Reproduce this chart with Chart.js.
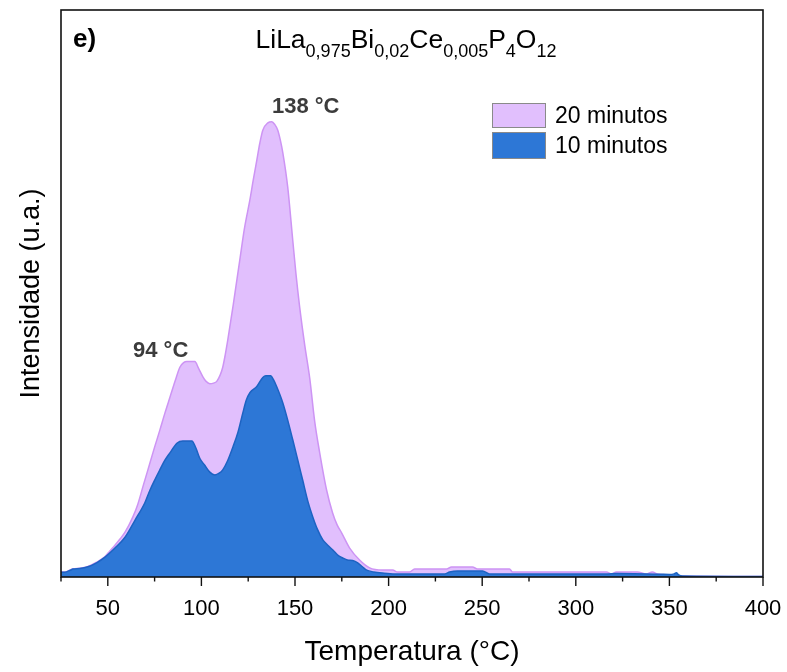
<!DOCTYPE html>
<html lang="pt">
<head>
  <meta charset="UTF-8">
  <title>Termoluminescência</title>
  <script src="https://cdn.jsdelivr.net/npm/chart.js"></script>
  <style>
    html, body { margin: 0; padding: 0; background: #fff; }
    #wrap { width: 787px; height: 672px; }
  </style>
</head>
<body>
  <div id="wrap"><canvas id="tlChart" width="787" height="672"></canvas></div>

  <script>
    // Dados (temperatura em °C, intensidade em u.a. 0-100)
    const temp10 = [25, 27, 30, 31.4, 35, 39.4, 44, 48.5, 53.8, 59.2, 64.5, 69.8, 72.5, 75.2, 77.8, 80.5, 83.2, 86.9, 90.1, 94.9, 97, 99.2, 101.8, 104.5, 107.2, 109.5, 111.4, 114, 116.8, 119.5, 122.1, 124, 125.9, 129.6, 132.8, 134.5, 137, 138.5, 140.3, 143.5, 146, 148.8, 151.5, 154.1, 157, 159.5, 162, 164.8, 167.5, 170.1, 173, 175.5, 178, 180.8, 183.5, 186, 188.3, 192, 196.8, 203.2, 230, 232.6, 236.8, 250.2, 253.9, 316.4, 321.7, 345, 350, 352.5, 353.7, 355, 357, 400];
    const int10 = [0.85, 0.85, 1.2, 1.4, 1.5, 1.8, 2.5, 3.5, 5.1, 7.0, 10.0, 13.1, 15.3, 17.2, 18.9, 20.6, 21.9, 23.6, 24.0, 24.0, 22.8, 20.9, 19.7, 18.5, 18.0, 18.3, 18.9, 20.5, 22.9, 25.5, 28.9, 31.2, 32.5, 33.6, 35.2, 35.5, 35.5, 34.8, 33.5, 30.7, 27.8, 24.2, 20.6, 17.1, 13.2, 10.6, 8.4, 6.6, 5.6, 4.8, 3.8, 3.35, 3.0, 2.9, 2.5, 1.8, 1.2, 0.9, 0.7, 0.55, 0.55, 0.88, 1.06, 1.06, 0.53, 0.53, 0.62, 0.5, 0.45, 0.55, 0.75, 0.35, 0.18, 0.1];

    const temp20 = [25, 27, 30, 31.4, 35, 39.4, 44, 48.5, 51.1, 53.8, 56.5, 59.2, 63.4, 66, 69, 72.5, 75, 77.8, 80.5, 83.2, 86, 88.5, 90.5, 92.2, 96.5, 98.5, 100.8, 102.5, 104.5, 106.5, 108.2, 110, 111.4, 112.8, 114.1, 117, 120.5, 123, 125.9, 127.8, 129.6, 131.2, 132.8, 135.5, 137.6, 139.2, 140.8, 142.2, 143.5, 146.1, 148.8, 150.5, 152.5, 155.2, 157.9, 160.5, 163.2, 166.9, 170.1, 172.5, 174.9, 179.2, 184.5, 189.9, 196.8, 202.2, 204.8, 211.2, 213.9, 231, 233.6, 244.8, 247.5, 264.6, 266.2, 316.4, 319, 321.7, 332.9, 337.7, 340.9, 343.6, 350, 355.3, 400];
    const int20 = [0.9, 0.9, 1.25, 1.45, 1.55, 1.85, 2.6, 3.6, 4.6, 5.6, 6.7, 7.9, 10.6, 12.8, 16.2, 20.1, 22.9, 25.9, 28.9, 31.7, 34.6, 37.0, 37.8, 38.0, 38.0, 36.8, 35.3, 34.5, 34.1, 34.2, 34.5, 35.6, 37.0, 39.3, 41.8, 48.0, 55.9, 61.5, 66.5, 70.2, 73.5, 76.5, 78.8, 80.1, 80.3, 79.8, 78.8, 77.0, 74.8, 68.8, 59.4, 53.5, 47.6, 40.9, 35.0, 27.5, 21.9, 15.3, 11.3, 9.2, 7.8, 5.1, 3.0, 1.6, 1.23, 1.23, 0.88, 0.88, 1.41, 1.41, 1.76, 1.76, 1.41, 1.41, 0.88, 0.88, 0.53, 0.88, 0.88, 0.53, 0.88, 0.53, 0.35, 0.18, 0.1];

    const tickMajor = [50, 100, 150, 200, 250, 300, 350, 400];
    const serieNomes = ['20 minutos', '10 minutos'];
    const picos = [{ texto: '138 °C', x: 272, y: 113 }, { texto: '94 °C', x: 133, y: 357 }];

    const FONTE = '"Liberation Sans", Arial, Helvetica, sans-serif';
    const cor20 = '#e1bffd', borda20 = '#cd94f4';
    const cor10 = '#2d77d6', borda10 = '#1d63c2';

    const pares = (xs, ys) => xs.map((x, i) => ({ x: x, y: ys[i] }));

    // Moldura, marcas do eixo x, legenda e textos
    const decorPlugin = {
      id: 'decor',
      afterDatasetsDraw(chart) {
        const ctx = chart.ctx;
        const a = chart.chartArea;
        const sx = chart.scales.x;
        ctx.save();
        ctx.strokeStyle = '#111';
        ctx.lineWidth = 1.6;
        ctx.strokeRect(a.left, a.top, a.right - a.left, a.bottom - a.top);
        ctx.lineWidth = 1.4;
        for (let v = 25; v <= 400; v += 25) {
          const px = sx.getPixelForValue(v);
          const len = tickMajor.includes(v) ? 9 : 4.5;
          ctx.beginPath();
          ctx.moveTo(px, a.bottom);
          ctx.lineTo(px, a.bottom + len);
          ctx.stroke();
        }
        ctx.restore();
      },
      afterDraw(chart) {
        const ctx = chart.ctx;
        ctx.save();

        // e)
        ctx.fillStyle = '#000';
        ctx.font = 'bold 26px ' + FONTE;
        ctx.textBaseline = 'alphabetic';
        ctx.fillText('e)', 73, 47);

        // título com subscritos
        const partes = [['LiLa', 0], ['0,975', 1], ['Bi', 0], ['0,02', 1], ['Ce', 0], ['0,005', 1], ['P', 0], ['4', 1], ['O', 0], ['12', 1]];
        const big = '26.5px ' + FONTE, small = '18px ' + FONTE;
        let w = 0;
        partes.forEach(p => { ctx.font = p[1] ? small : big; w += ctx.measureText(p[0]).width; });
        let x = 406 - w / 2;
        partes.forEach(p => {
          ctx.font = p[1] ? small : big;
          ctx.fillText(p[0], x, p[1] ? 57 : 48);
          x += ctx.measureText(p[0]).width;
        });

        // rótulos dos picos
        ctx.fillStyle = '#3c3c3c';
        ctx.font = 'bold 22px ' + FONTE;
        picos.forEach(p => ctx.fillText(p.texto, p.x, p.y));

        // legenda
        const caixas = [[cor20, 103, 25], [cor10, 132, 27]];
        ctx.font = '23px ' + FONTE;
        ctx.textBaseline = 'middle';
        caixas.forEach((c, i) => {
          ctx.fillStyle = c[0];
          ctx.fillRect(492, c[1], 54, c[2]);
          ctx.strokeStyle = '#8a8a8a';
          ctx.lineWidth = 1;
          ctx.strokeRect(492.5, c[1] + 0.5, 53, c[2] - 1);
          ctx.fillStyle = '#000';
          ctx.fillText(serieNomes[i], 555, c[1] + c[2] / 2 + 1);
        });
        ctx.restore();
      }
    };

    const ctx = document.getElementById('tlChart').getContext('2d');
    new Chart(ctx, {
      type: 'line',
      data: {
        datasets: [
          {
            label: serieNomes[1],
            data: pares(temp10, int10),
            borderColor: borda10,
            backgroundColor: cor10,
            borderWidth: 1.5,
            fill: 'origin',
            pointRadius: 0,
            cubicInterpolationMode: 'monotone',
            order: 0
          },
          {
            label: serieNomes[0],
            data: pares(temp20, int20),
            borderColor: borda20,
            backgroundColor: cor20,
            borderWidth: 1.5,
            fill: 'origin',
            pointRadius: 0,
            cubicInterpolationMode: 'monotone',
            order: 1
          }
        ]
      },
      options: {
        responsive: false,
        animation: false,
        layout: { padding: { top: 10, right: 24, bottom: 0, left: 0 } },
        plugins: {
          legend: { display: false },
          tooltip: { enabled: false }
        },
        scales: {
          x: {
            type: 'linear',
            min: 25,
            max: 400,
            grid: { display: false },
            border: { display: false },
            ticks: {
              stepSize: 25,
              autoSkip: false,
              maxRotation: 0,
              padding: 11,
              color: '#000',
              font: { family: FONTE, size: 22 },
              callback: v => (tickMajor.includes(v) ? v : '')
            },
            title: {
              display: true,
              text: 'Temperatura (°C)',
              color: '#000',
              font: { family: FONTE, size: 28 },
              padding: { top: 0, bottom: 3 }
            },
            afterFit: s => { s.height = 95; s.paddingLeft = 0; s.paddingRight = 0; }
          },
          y: {
            min: 0,
            max: 100,
            grid: { display: false },
            border: { display: false },
            ticks: { display: false },
            title: {
              display: true,
              text: 'Intensidade (u.a.)',
              color: '#000',
              font: { family: FONTE, size: 27 },
              padding: { top: 15, bottom: 0 }
            },
            afterFit: s => { s.width = 61; }
          }
        }
      },
      plugins: [decorPlugin]
    });
  </script>
</body>
</html>
